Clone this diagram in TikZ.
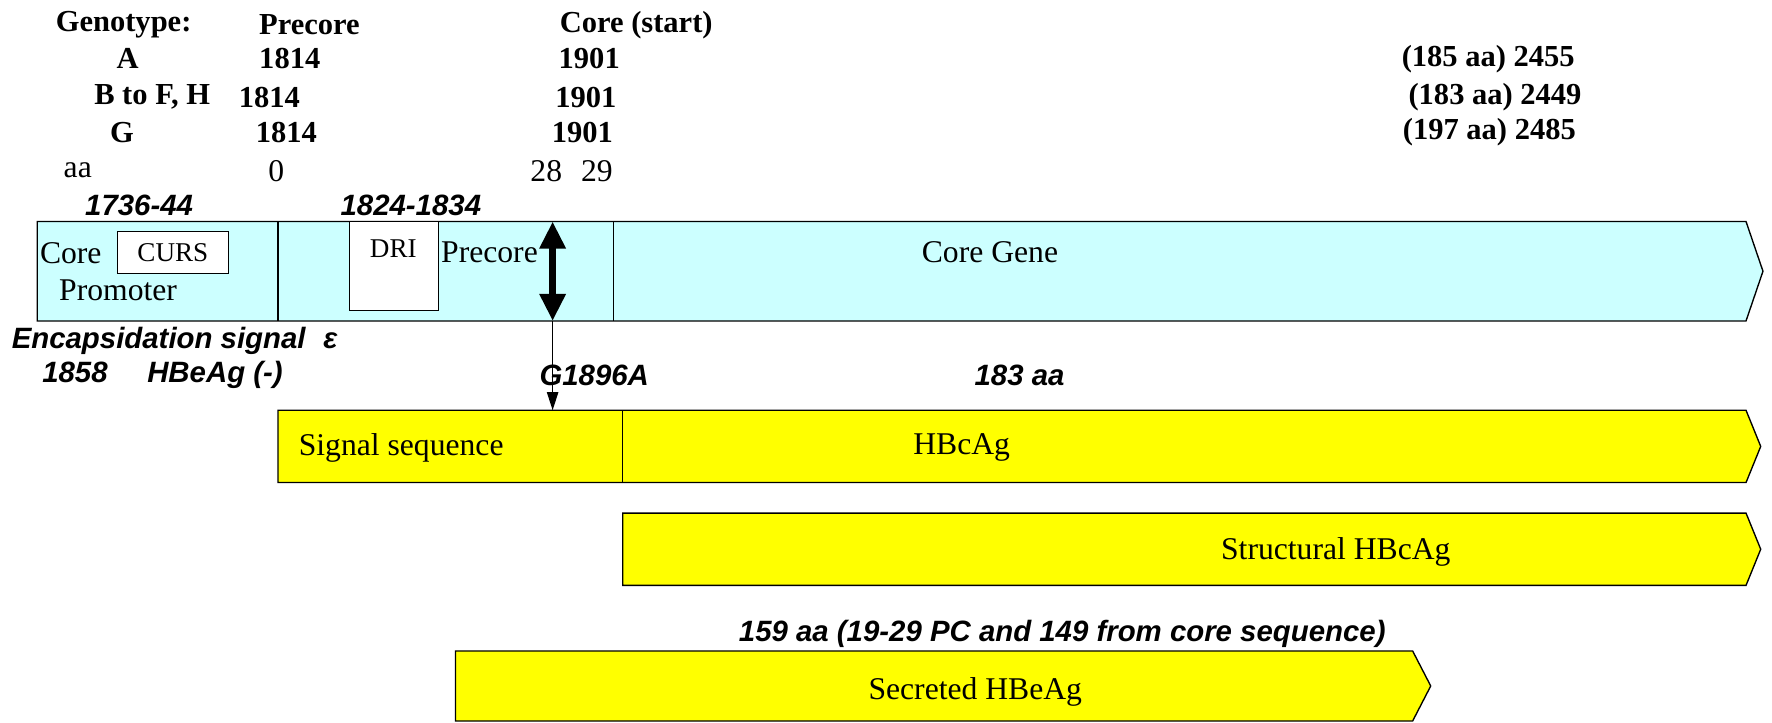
\documentclass[tikz,border=0pt]{standalone}
\usepackage{fontspec}
\setmainfont{Liberation Serif}
\newfontfamily\arialfont{Liberation Sans}
\usetikzlibrary{arrows.meta}
\definecolor{coreblock}{RGB}{204, 255, 255}
\definecolor{protblock}{RGB}{255, 255, 0}
\tikzset{
  toplabel/.style={font=\fontsize{13.5}{16}\selectfont\bfseries, inner sep=0pt},
  plainlabel/.style={font=\fontsize{14}{16}\selectfont, inner sep=0pt},
  smalllabel/.style={font=\fontsize{12}{14}\selectfont, inner sep=0pt},
  annot/.style={font=\arialfont\fontsize{13}{15}\selectfont\bfseries\itshape, inner sep=0pt},
  geneline/.style={draw=black, line width=0.6pt}
}

\begin{document}
\begin{tikzpicture}[x=0.5pt, y=-0.5pt]
	\useasboundingbox (0,0) rectangle (1568,639);

	% genotype table
	\node[toplabel, anchor=west] (hgeno) at (49,22) {Genotype:};
	\node[toplabel, anchor=west] (hpc) at (229,22) {Precore};
	\node[toplabel, anchor=west] (hcore) at (495,22) {Core (start)};

	\node[toplabel] (gA) at (113,52) {A};
	\node[toplabel, anchor=west] (pcA) at (229,52) {1814};
	\node[toplabel, anchor=west] (cA) at (494,52) {1901};
	\node[toplabel, anchor=west] (endA) at (1240,52) {(185 aa) 2455};

	\node[toplabel, anchor=west] (gB) at (83,86) {B to F, H};
	\node[toplabel, anchor=west] (pcB) at (211,86) {1814};
	\node[toplabel, anchor=west] (cB) at (491,86) {1901};
	\node[toplabel, anchor=west] (endB) at (1246,86) {(183 aa) 2449};

	\node[toplabel] (gG) at (108,117) {G};
	\node[toplabel, anchor=west] (pcG) at (226,117) {1814};
	\node[toplabel, anchor=west] (cG) at (488,117) {1901};
	\node[toplabel, anchor=west] (endG) at (1241,117) {(197 aa) 2485};

	\node[plainlabel, anchor=west] (aarow) at (56,151) {aa};
	\node[plainlabel, anchor=west] (aa0) at (237,151) {0};
	\node[plainlabel, anchor=west] (aa28) at (469,151) {28\hspace{0.6em}29};

	\node[annot, anchor=west] (curspos) at (75,182) {1736-44};
	\node[annot, anchor=west] (dripos) at (301,182) {1824-1834};

	% core gene
	\fill[coreblock] (33,196) -- (1545,196) -- (1560,240) -- (1545,284) -- (33,284) -- cycle;
	\draw[geneline] (33,196) -- (1545,196) -- (1560,240) -- (1545,284) -- (33,284) -- cycle;
	\draw[geneline] (246,196) -- (246,284);
	\draw[geneline] (543,196) -- (543,284);

	\node[plainlabel, anchor=west] (corep) at (35,224) {Core};
	\node[draw, fill=white, line width=0.6pt, minimum width=49pt, minimum height=18.5pt, smalllabel] (curs) at (153,223.5) {CURS};
	\node[plainlabel, anchor=west] (prom) at (52,257) {Promoter};
	\fill[white] (309,196) rectangle (388,275);
	\draw[geneline] (309,196) rectangle (388,275);
	\node[smalllabel] (dri) at (348,220) {DRI};
	\node[plainlabel, anchor=west] (pcl) at (390,223) {Precore};
	\node[plainlabel] (coregene) at (876,223) {Core Gene};

	\coordinate (mutTop) at (489,196);
	\coordinate (mutBot) at (489,284);
	\coordinate (sigTop) at (489,363);
	\draw[line width=3pt, {Triangle[width=11pt,length=12pt]}-{Triangle[width=11pt,length=12pt]}] (mutTop) -- (mutBot);
	\draw[line width=0.6pt, -{Triangle[width=5pt,length=8pt]}] (mutBot) -- (sigTop);

	\node[annot, anchor=west] (encap) at (10,302) {Encapsidation signal\hspace{0.6em}ε};
	\node[annot, anchor=west] (hbeneg) at (37,332) {1858\hspace{1.35em}HBeAg (-)};
	\node[annot, anchor=west] (mut) at (477,332) {G1896A};
	\node[annot, anchor=west] (len183) at (862,332) {183 aa};

	% HBcAg with signal sequence
	\fill[protblock] (246,363) -- (1545,363) -- (1558,395) -- (1545,427) -- (246,427) -- cycle;
	\draw[geneline] (246,363) -- (1545,363) -- (1558,395) -- (1545,427) -- (246,427) -- cycle;
	\draw[geneline] (551,363) -- (551,427);
	\node[plainlabel, anchor=west] (sigseq) at (264,396) {Signal sequence};
	\node[plainlabel] (hbc) at (851,396) {HBcAg};

	% structural HBcAg
	\fill[protblock] (551,454) -- (1545,454) -- (1558,486) -- (1545,518) -- (551,518) -- cycle;
	\draw[geneline] (551,454) -- (1545,454) -- (1558,486) -- (1545,518) -- (551,518) -- cycle;
	\node[plainlabel] (strhbc) at (1182,488) {Structural HBcAg};

	% secreted HBeAg
	\node[annot] (len159) at (940,561) {159 aa (19-29 PC and 149 from core sequence)};
	\fill[protblock] (403,576) -- (1250,576) -- (1266,607) -- (1250,638) -- (403,638) -- cycle;
	\draw[geneline] (403,576) -- (1250,576) -- (1266,607) -- (1250,638) -- (403,638) -- cycle;
	\node[plainlabel] (sechbe) at (863,612) {Secreted HBeAg};
\end{tikzpicture}
\end{document}
